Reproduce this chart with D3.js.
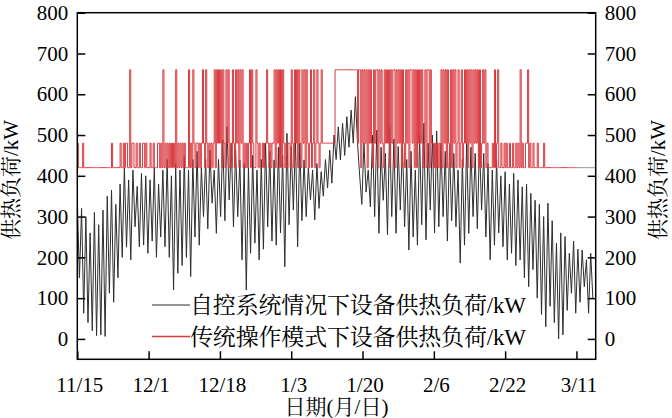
<!DOCTYPE html>
<html><head><meta charset="utf-8">
<script src="https://cdn.jsdelivr.net/npm/d3@7"></script>
<style>body{margin:0;background:#fff}svg{display:block}</style>
</head><body><svg id="c" width="672" height="418"></svg>
<script>
// ---- data ----
const dateTicks = [0, 400, 800, 1200, 1600, 2000, 2400, 2800]; // hours since 11/15
const dateLabels = ["11/15", "12/1", "12/18", "1/3", "1/20", "2/6", "2/22", "3/11"];
const loadTicks = [0, 100, 200, 300, 400, 500, 600, 700, 800];
const seriesNames = ["自控系统情况下设备供热负荷/kW", "传统操作模式下设备供热负荷/kW"];
const yTitle = "供热负荷/kW";
const xTitle = "日期(月/日)";
const autoStepHours = 12;
const tradStepHours = 6;
// auto-control load, sampled every 12 h
const autoLoad = [
340,150, 320,63, 300,40, 260,20, 310,8, 280,10, 316,6, 350,112, 365,90, 330,150,
380,200, 420,225, 390,194, 414,275, 374,226, 406,230, 400,210, 390,240, 420,200, 380,250,
414,226, 440,200, 400,120, 430,161, 414,180, 447,200, 414,153, 440,250, 460,230, 420,300,
440,270, 463,333, 414,259, 440,300, 488,290, 520,341, 480,275, 463,300, 439,194, 430,120,
420,210, 450,235, 414,194, 440,220, 480,275, 460,240, 439,230, 470,260, 450,177, 504,280,
472,316, 490,226, 480,290, 439,300, 420,341, 414,292, 430,320, 410,350, 440,370, 463,382,
500,440, 520,439, 529,450, 545,470, 561,480, 594,480, 400,330, 480,360, 414,324, 500,300,
512,259, 470,340, 455,255, 520,300, 490,259, 472,316, 480,275, 440,218, 460,250, 414,230,
500,280, 529,243, 480,316, 500,260, 510,275, 480,300, 460,240, 470,290, 455,275, 414,186,
440,230, 480,259, 470,300, 455,270, 480,316, 455,250, 430,194, 414,230, 440,260, 400,226,
410,194, 380,210, 406,180, 390,194, 373,150, 380,128, 357,170, 340,100, 330,60, 300,30,
333,80, 290,40, 235,0, 260,10, 251,70, 210,112, 240,63, 220,90, 218,128, 194,63,
210,100
];
// traditional-mode load, sampled every 6 h
const tradLoad = [
480,420,420,420, 420,480,420,420, 420,420,420,420, 420,420,420,420, 420,420,420,420,
420,420,420,420, 420,420,420,420, 420,420,420,420, 480,420,420,420, 420,420,420,420,
480,420,420,480, 420,480,480,420, 420,660,420,480, 480,420,420,480, 420,420,480,420,
420,480,480,420, 480,420,420,420, 480,420,420,480, 420,420,420,480, 480,420,480,420,
660,420,480,420, 480,420,480,420, 480,420,480,420, 660,420,480,420, 480,420,480,420,
480,420,420,420, 660,420,480,420, 660,480,420,480, 480,420,480,420, 480,660,480,420,
660,480,420,480, 420,480,420,480, 660,420,660,480, 660,480,660,420, 660,480,420,660,
480,660,420,480, 420,660,480,420, 660,480,660,420, 660,480,660,420, 480,420,480,420,
480,660,420,660, 480,420,420,660, 480,420,480,420, 420,480,420,480, 480,660,480,420,
480,420,480,480, 660,420,660,480, 660,420,660,420, 660,480,420,480, 420,480,480,420,
660,480,420,660, 480,660,420,660, 480,420,660,480, 660,420,660,480, 420,480,660,420,
480,660,420,480, 660,480,420,480, 660,480,480,480, 480,480,480,480, 480,480,480,480,
480,660,660,660, 660,660,660,660, 660,660,660,660, 660,660,660,660, 660,660,660,660,
660,660,480,660, 660,420,660,480, 660,480,660,420, 660,480,660,480, 420,660,480,660,
660,420,660,480, 660,480,420,660, 480,660,480,660, 420,660,480,660, 660,420,660,480,
660,480,660,420, 660,480,420,660, 480,660,420,660, 660,480,660,420, 660,420,660,480,
660,480,660,420, 480,660,420,660, 660,420,660,480, 480,420,480,420, 480,420,480,420,
660,420,660,480, 660,420,660,480, 420,660,420,660, 480,660,420,480, 660,420,480,660,
420,480,660,480, 660,420,660,480, 660,420,660,480, 660,480,660,420, 660,420,480,660,
480,660,420,480, 420,420,420,420, 480,420,660,420, 480,660,420,420, 480,420,420,480,
420,480,420,420, 480,420,420,480, 420,420,480,420, 480,420,660,420, 480,420,420,480,
480,660,420,480, 420,420,480,420, 420,420,480,420, 420,420,420,420, 480,420,420,420,
420,420,420,420, 420,420,420,420, 420,420,420,420, 420,420,420,420, 420,420,420,420,
420,420,420,420, 420,420,420,420
];

// ---- layout ----
const P = {l: 77.3, r: 595.7, t: 12.7, b: 359.3};
const NUM_FONT = "'Liberation Serif','Times New Roman',serif";
const CJK_FONT = "'Liberation Serif','Noto Serif CJK SC','Noto Sans CJK SC',serif";
const svg = d3.select("#c");

const x = d3.scaleLinear().domain([0, 2908]).range([P.l, P.r]);
const y = d3.scaleLinear().domain([-50, 800]).range([P.b, P.t]);

const autoPts = autoLoad.map((v, i) => [i * autoStepHours, v]);
const tradPts = tradLoad.map((v, i) => [i * tradStepHours, v]);

svg.append("clipPath").attr("id", "pc").append("rect")
  .attr("x", P.l).attr("y", P.t).attr("width", P.r - P.l).attr("height", P.b - P.t);
const plot = svg.append("g").attr("clip-path", "url(#pc)");

plot.append("path").datum(autoPts)
  .attr("fill", "none").attr("stroke", "#2e2e2e").attr("stroke-width", 1)
  .attr("d", d3.line().x(d => x(d[0])).y(d => y(d[1])));

const lastT = tradPts[tradPts.length - 1];
plot.append("path").datum([lastT, [x.domain()[1], lastT[1]]])
  .attr("fill", "none").attr("stroke", "#9a9a9a").attr("stroke-width", 1)
  .attr("d", d3.line().x(d => x(d[0])).y(d => y(d[1])));

plot.append("path").datum(tradPts)
  .attr("fill", "none").attr("stroke", "#d9383e").attr("stroke-width", 1)
  .attr("d", d3.line().curve(d3.curveStepAfter).x(d => x(d[0])).y(d => y(d[1])));

// ---- axes ----
function styleAxis(g) {
  g.select(".domain").remove();
  g.selectAll(".tick line").attr("stroke", "#000").attr("stroke-width", 1.5);
  g.selectAll(".tick text").attr("fill", "#000").style("font-family", NUM_FONT).style("font-size", "21px");
}
svg.append("g").attr("transform", `translate(${P.l},0)`)
  .call(d3.axisLeft(y).tickValues(loadTicks).tickSizeInner(-8).tickSizeOuter(0).tickPadding(9))
  .call(styleAxis);
svg.append("g").attr("transform", `translate(${P.r},0)`)
  .call(d3.axisRight(y).tickValues(loadTicks).tickSizeInner(-8).tickSizeOuter(0).tickPadding(9))
  .call(styleAxis);
const xa = svg.append("g").attr("transform", `translate(0,${P.b})`)
  .call(d3.axisBottom(x).tickValues(dateTicks).tickFormat((d, i) => dateLabels[i])
    .tickSizeInner(-8).tickSizeOuter(0).tickPadding(20))
  .call(styleAxis);
xa.selectAll(".tick text").attr("dx", 2).attr("y", 33).attr("dy", 0);

svg.append("rect").attr("x", P.l).attr("y", P.t).attr("width", P.r - P.l).attr("height", P.b - P.t)
  .attr("fill", "none").attr("stroke", "#000").attr("stroke-width", 1.5);

// ---- titles ----
svg.append("text").attr("transform", `translate(18,180) rotate(-90)`)
  .attr("text-anchor", "middle").style("font-family", CJK_FONT).style("font-size", "21px")
  .text(yTitle);
svg.append("text").attr("transform", `translate(665,180) rotate(-90)`)
  .attr("text-anchor", "middle").style("font-family", CJK_FONT).style("font-size", "21px")
  .text(yTitle);
svg.append("text").attr("x", (P.l + P.r) / 2).attr("y", 414)
  .attr("text-anchor", "middle").style("font-family", CJK_FONT).style("font-size", "21px")
  .text(xTitle);

// ---- legend ----
const legColors = ["#2e2e2e", "#d9383e"];
const legY = [305, 336.5];
seriesNames.forEach((name, i) => {
  svg.append("line").attr("x1", 152).attr("x2", 190).attr("y1", legY[i]).attr("y2", legY[i])
    .attr("stroke", legColors[i]).attr("stroke-width", i ? 1.5 : 1);
  svg.append("text").attr("x", 190).attr("y", legY[i] + 8)
    .attr("textLength", 336).attr("lengthAdjust", "spacing")
    .style("font-family", CJK_FONT).style("font-size", "23px").text(name);
});
</script></body></html>
